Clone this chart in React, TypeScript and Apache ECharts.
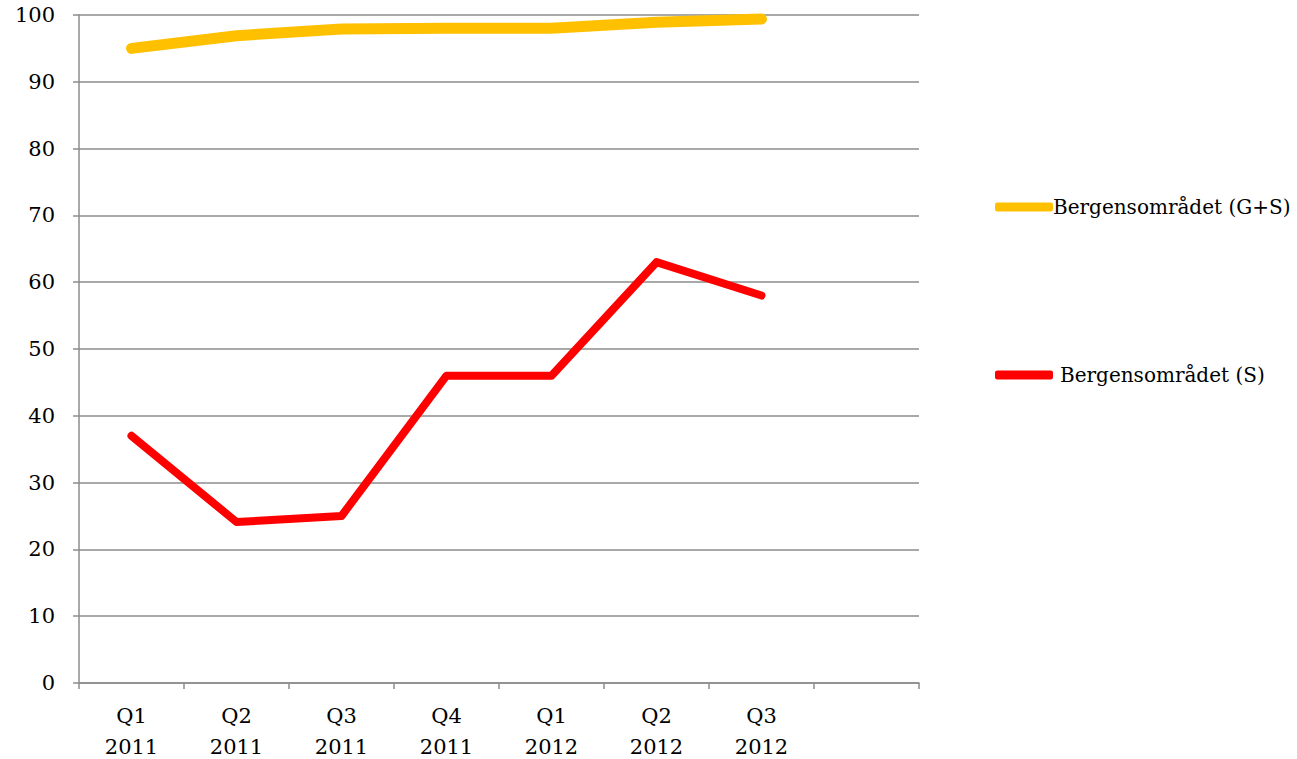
import React, { useEffect, useRef } from "react";
import * as echarts from "echarts";

const categories = ["Q1\n2011", "Q2\n2011", "Q3\n2011", "Q4\n2011", "Q1\n2012", "Q2\n2012", "Q3\n2012", ""];
const seriesGS = [95, 96.9, 97.9, 98, 98, 98.9, 99.4];
const seriesS = [37, 24.1, 25, 46, 46, 63, 58];
const yTicks = { min: 0, max: 100, interval: 10 };

export default function App() {
  const ref = useRef<HTMLDivElement>(null);
  useEffect(() => {
    const chart = echarts.init(ref.current!, undefined, { renderer: "svg" });
    const axisFont = { fontFamily: "DejaVu Serif", fontSize: 21, color: "#000" };
    const legendFont = { fontFamily: "DejaVu Serif", fontSize: 20, color: "#000" };
    chart.setOption({
      animation: false,
      backgroundColor: "#fff",
      grid: { left: 79, top: 15, right: 378, bottom: 76, containLabel: false, outerBoundsMode: "none" },
      legend: [
        {
          data: ["Bergensområdet (G+S)"],
          left: 990,
          top: 192,
          icon: "roundRect",
          itemWidth: 58,
          itemHeight: 9,
          itemGap: 0,
          textStyle: { ...legendFont, padding: [0, 0, 0, -5] },
        },
        {
          data: ["Bergensområdet (S)"],
          left: 990,
          top: 360,
          icon: "roundRect",
          itemWidth: 58,
          itemHeight: 9,
          textStyle: { ...legendFont, padding: [0, 0, 0, 2] },
        },
      ],
      xAxis: {
        type: "category",
        data: categories,
        boundaryGap: true,
        axisLine: { show: true, lineStyle: { color: "#8c8c8c", width: 1.5 } },
        axisTick: { show: true, length: 6, lineStyle: { color: "#8c8c8c", width: 1.5 }, alignWithLabel: false },
        axisLabel: { ...axisFont, margin: 17, lineHeight: 31, interval: 0 },
        splitLine: { show: false },
      },
      yAxis: {
        type: "value",
        min: yTicks.min,
        max: yTicks.max,
        interval: yTicks.interval,
        axisLine: { show: true, lineStyle: { color: "#8c8c8c", width: 1.5 } },
        axisTick: { show: true, length: 6, lineStyle: { color: "#8c8c8c", width: 1.5 } },
        axisLabel: { ...axisFont, margin: 24 },
        splitLine: { show: true, lineStyle: { color: "#8c8c8c", width: 1.5 } },
      },
      series: [
        {
          name: "Bergensområdet (G+S)",
          type: "line",
          data: seriesGS,
          symbol: "none",
          color: "#FFC000",
          lineStyle: { color: "#FFC000", width: 11, cap: "round", join: "round" },
          clip: true,
        },
        {
          name: "Bergensområdet (S)",
          type: "line",
          data: seriesS,
          symbol: "none",
          color: "#FF0000",
          lineStyle: { color: "#FF0000", width: 8, cap: "round", join: "round" },
          clip: true,
        },
      ],
    });
    return () => chart.dispose();
  }, []);
  return <div ref={ref} style={{ width: 1297, height: 759, position: "absolute", left: 0, top: 0 }} />;
}
